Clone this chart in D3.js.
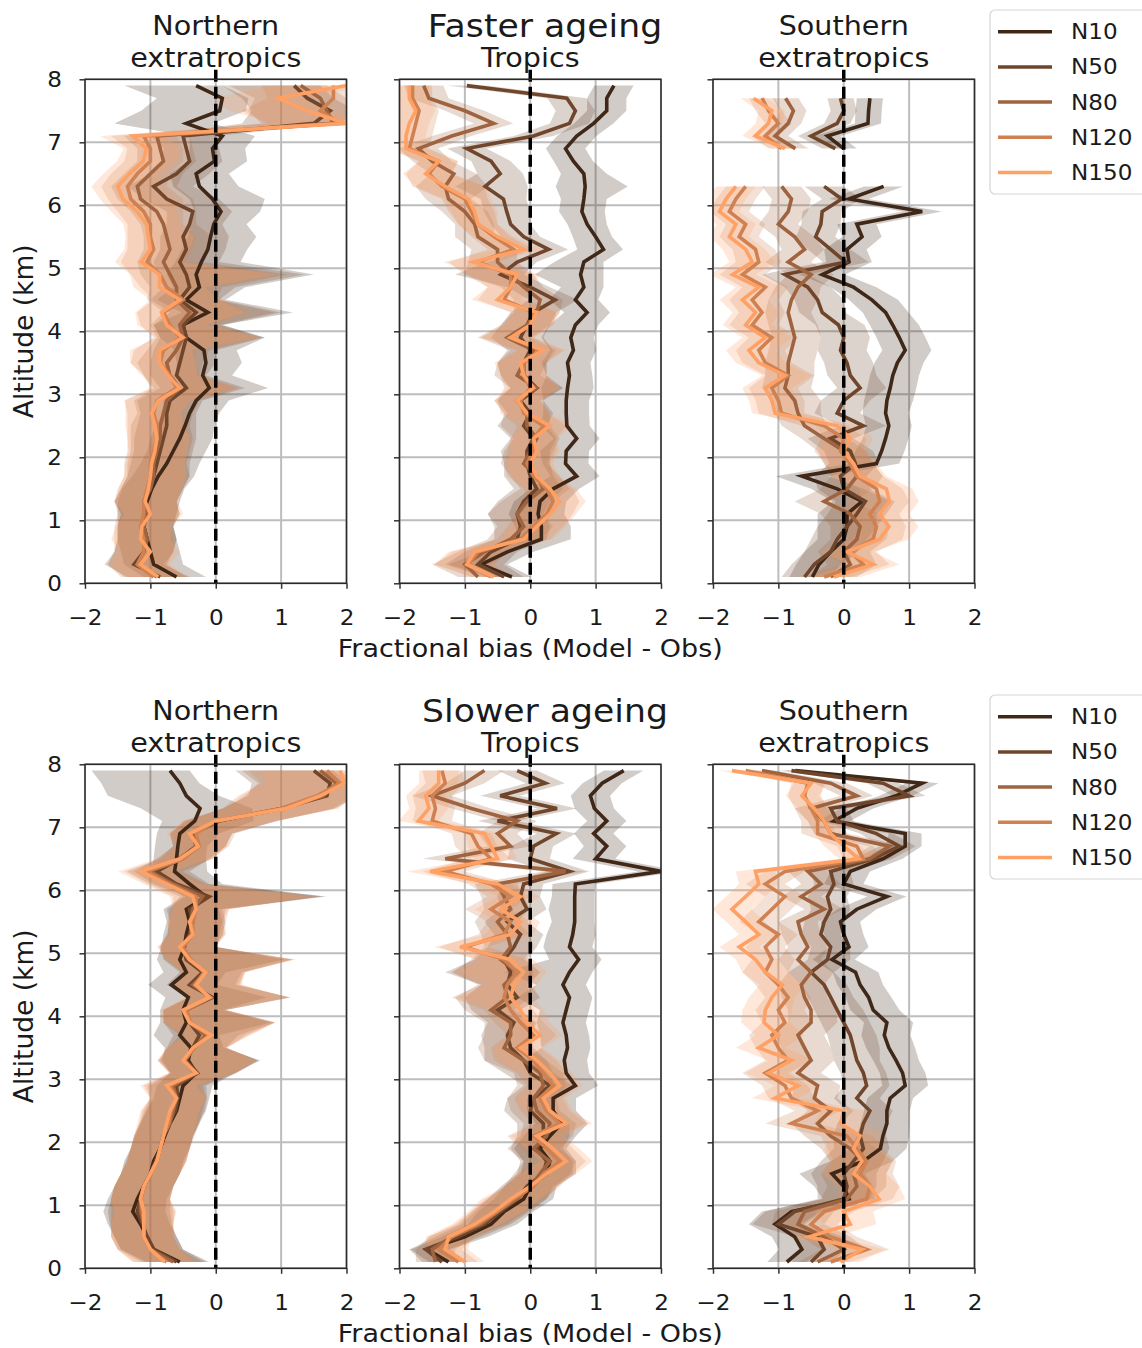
<!DOCTYPE html>
<html><head><meta charset="utf-8">
<script src="https://cdn.jsdelivr.net/npm/d3@7"></script>
<style>body{margin:0;background:#fff} svg{font-family:"DejaVu Sans",sans-serif}</style>
</head><body><svg id="c" width="1142" height="1348"></svg>
<script>
// ---------- DATA ----------
const altitudes = [0.1,0.3,0.5,0.7,0.9,1.1,1.3,1.5,1.7,1.9,2.1,2.3,2.5,2.7,2.9,3.1,3.3,3.5,3.7,3.9,4.1,4.3,4.5,4.7,4.9,5.1,5.3,5.5,5.7,5.9,6.1,6.3,6.5,6.7,6.9,7.1,7.3,7.5,7.7,7.9];
const seriesNames = ["N10","N50","N80","N120","N150"];
const xTicks = [-2,-1,0,1,2];
const yTicks = [0,1,2,3,4,5,6,7,8];
const rowTitles = ["Faster ageing","Slower ageing"];
const colTitles = [["Northern","extratropics"],["Tropics"],["Southern","extratropics"]];

// Faster ageing, Northern extratropics (N10,N50,N80,N120,N150)
const fasterNH = [
 [-0.6,-0.95,-1.0,-1.05,-1.1,-1.1,-1.05,-0.98,-0.88,-0.75,-0.65,-0.55,-0.47,-0.4,-0.3,-0.1,-0.2,-0.15,-0.18,-0.45,-0.5,-0.12,-0.45,-0.25,-0.3,-0.22,-0.12,-0.08,-0.03,0.08,-0.05,-0.25,-0.3,-0.02,-0.05,0.1,-0.45,0.06,0.1,-0.3],
 [-0.85,-1.25,-1.1,-1.05,-1.1,-1.05,-1.1,-1.0,-0.95,-0.9,-0.85,-0.8,-0.75,-0.75,-0.7,-0.45,-0.6,-0.55,-0.5,-0.45,-0.5,-0.3,-0.55,-0.4,-0.45,-0.55,-0.45,-0.5,-0.4,-0.35,-0.75,-0.95,-0.6,-0.4,-0.45,-0.5,1.5,1.75,1.4,1.2],
 [-0.9,-1.2,-1.1,-1.05,-1.1,-1.05,-1.1,-1.0,-0.95,-0.95,-0.9,-0.85,-0.85,-0.8,-0.75,-0.55,-0.7,-0.75,-0.6,-0.5,-0.55,-0.4,-0.6,-0.6,-0.7,-0.8,-0.7,-0.75,-0.8,-0.9,-1.15,-1.2,-1.0,-0.8,-0.85,-0.9,1.8,1.7,1.6,1.3],
 [-0.95,-1.2,-1.1,-1.1,-1.15,-1.1,-1.1,-1.05,-1.0,-1.0,-0.95,-0.9,-0.9,-0.95,-0.9,-0.6,-0.7,-0.85,-0.8,-0.55,-0.7,-0.8,-0.5,-0.75,-0.85,-1.05,-0.95,-1.0,-1.0,-1.1,-1.3,-1.35,-1.2,-1.0,-1.0,-1.1,1.9,1.6,1.8,1.8],
 [-0.88,-1.15,-1.0,-1.15,-1.13,-1.0,-1.08,-1.03,-1.0,-0.98,-0.93,-0.9,-0.93,-0.98,-0.88,-0.55,-0.73,-0.86,-0.86,-0.5,-0.75,-0.83,-0.55,-0.86,-0.86,-1.14,-1.0,-1.03,-1.06,-1.2,-1.42,-1.5,-1.32,-1.11,-1.06,-1.27,2.0,1.4,0.95,2.0]
];
const fasterNHLo = [0.5,0.45,0.45,0.45,0.4,0.4,0.45,0.45,0.4,0.4,0.4,0.45,0.45,0.4,0.5,0.4,0.4,0.45,0.45,0.4,0.45,0.4,0.45,0.4,0.45,0.4,0.4,0.35,0.35,0.4,0.35,0.4,0.4,0.4,0.35,0.5,1.1,1.2,1.0,1.1];
const fasterNHHi = [0.45,0.45,0.45,0.45,0.45,0.5,0.5,0.5,0.55,0.5,0.5,0.5,0.45,0.45,0.5,0.9,0.45,0.55,0.5,1.2,0.6,1.3,0.6,0.7,1.8,0.6,0.6,0.7,0.5,0.6,0.8,0.6,0.5,0.5,0.5,0.5,0.4,0.4,0.4,0.4];

// Faster ageing, Tropics
const fasterTR = [
 [-0.28,-0.75,-0.35,0.17,0.17,0.12,0.15,0.35,0.71,0.54,0.55,0.71,0.56,0.55,0.55,0.57,0.6,0.57,0.66,0.62,0.69,0.87,0.69,0.82,0.77,0.82,1.12,1.0,0.87,0.79,0.82,0.84,0.82,0.66,0.54,0.71,0.97,1.17,1.17,1.28],
 [-0.4,-0.8,-0.6,-0.2,-0.15,-0.2,-0.1,0.1,0.0,-0.05,-0.05,0.05,-0.1,0.0,-0.15,0.1,-0.1,-0.1,0.0,-0.15,-0.05,0.05,0.38,0.0,-0.45,-0.2,0.28,-0.1,-0.3,-0.36,-0.41,-0.69,-0.46,-0.6,-0.97,0.05,0.6,0.69,0.56,-0.97],
 [-0.8,-1.0,-0.7,-0.3,-0.1,-0.2,-0.05,0.2,0.1,-0.1,0.0,0.1,-0.05,-0.05,-0.2,0.1,-0.2,-0.1,0.05,-0.35,-0.05,0.1,0.15,-0.1,-0.3,-0.5,-0.5,-0.8,-0.85,-1.0,-1.25,-1.3,-1.17,-1.5,-1.71,-1.2,-0.56,-1.0,-1.55,-1.63],
 [-0.6,-0.95,-0.8,-0.15,0.05,0.25,0.35,0.25,0.05,-0.05,0.05,0.05,0.2,-0.1,-0.15,0.0,-0.1,-0.1,0.15,-0.3,0.0,0.05,-0.4,-0.3,-0.3,-0.8,-0.25,-0.55,-0.8,-0.9,-1.0,-1.35,-1.55,-1.4,-1.85,-1.8,-1.75,-1.7,-1.8,-1.8],
 [-0.56,-0.97,-0.85,-0.1,0.1,0.3,0.45,0.3,0.1,0.0,0.1,0.05,0.3,-0.05,-0.2,0.05,-0.1,-0.15,0.2,-0.3,0.0,0.1,-0.5,-0.3,-0.2,-0.87,-0.1,-0.5,-0.8,-0.85,-0.95,-1.3,-1.6,-1.4,-1.9,-1.9,-1.85,-1.75,-1.85,-1.85]
];
const fasterTRLo = [0.3,0.5,0.4,0.35,0.4,0.45,0.4,0.35,0.4,0.35,0.4,0.35,0.4,0.35,0.35,0.4,0.35,0.4,0.35,0.45,0.4,0.35,0.4,0.35,0.7,0.45,0.4,0.35,0.3,0.35,0.35,0.45,0.35,0.3,0.3,0.3,0.3,0.3,0.3,0.3];
const fasterTRHi = [0.3,0.4,0.4,0.45,0.45,0.4,0.4,0.4,0.35,0.35,0.35,0.35,0.35,0.35,0.35,0.4,0.35,0.35,0.35,0.35,0.35,0.35,0.35,0.3,0.35,0.3,0.3,0.25,0.3,0.35,0.35,0.65,0.35,0.3,0.3,0.3,0.3,0.3,0.3,0.3];

// Faster ageing, Southern extratropics (null = no data)
const fasterSH = [
 [-0.48,-0.38,-0.2,0.0,0.05,0.05,0.28,-0.1,-0.64,0.5,0.58,0.64,0.69,0.64,0.66,0.71,0.75,0.82,0.94,0.85,0.75,0.64,0.43,0.15,-0.33,0.08,0.05,0.28,0.2,1.2,0.08,0.61,null,null,0.0,-0.25,0.37,0.38,0.4,null],
 [-0.6,-0.45,-0.2,-0.1,0.05,0.2,0.33,0.0,-0.05,0.18,0.1,-0.2,0.3,-0.1,0.0,0.25,0.1,0.05,-0.05,0.0,-0.08,-0.33,-0.4,-0.55,-0.9,0.03,-0.2,-0.43,-0.35,-0.33,-0.03,-0.3,null,null,-0.13,-0.5,-0.1,0.0,-0.05,null],
 [-0.2,0.1,0.0,0.2,0.25,0.1,-0.3,0.05,0.2,0.1,0.0,-0.3,-0.6,-0.7,-0.75,-0.9,-0.85,-0.85,-0.8,-0.75,-0.8,-0.85,-0.8,-0.7,-0.5,-0.85,-0.6,-0.75,-1.0,-0.85,-0.8,-0.95,null,null,-0.74,-1.05,-0.85,-0.77,-0.89,null],
 [-0.3,0.3,0.1,0.45,0.5,0.4,0.55,0.5,0.2,0.1,-0.05,0.0,-0.3,-0.95,-1.0,-1.1,-0.85,-1.2,-1.3,-1.1,-1.4,-1.25,-1.4,-1.2,-1.55,-1.3,-1.35,-1.6,-1.5,-1.75,-1.65,-1.5,null,null,-0.95,-1.2,-1.0,-1.15,-1.25,null],
 [-0.15,0.45,0.05,0.55,0.69,0.55,0.7,0.65,0.25,0.15,0.0,0.1,-0.1,-1.05,-1.1,-1.2,-0.9,-1.3,-1.45,-1.2,-1.5,-1.35,-1.55,-1.3,-1.7,-1.4,-1.5,-1.75,-1.65,-1.9,-1.8,-1.65,null,null,-0.9,-1.35,-1.15,-1.1,-1.38,null]
];
const fasterSHLo = [0.35,0.35,0.4,0.4,0.45,0.45,0.45,0.4,0.4,0.4,0.4,0.35,0.35,0.35,0.35,0.35,0.35,0.35,0.35,0.35,0.35,0.35,0.35,0.35,0.35,0.35,0.35,0.3,0.3,0.3,0.3,0.3,0.3,0.3,0.2,0.2,0.2,0.2,0.2,0.2];
const fasterSHHi = [0.4,0.4,0.4,0.45,0.45,0.45,0.45,0.4,0.4,0.35,0.35,0.35,0.35,0.35,0.4,0.4,0.4,0.4,0.4,0.4,0.4,0.35,0.4,0.35,0.35,0.35,0.3,0.3,0.3,0.3,0.3,0.3,0.3,0.3,0.2,0.2,0.2,0.2,0.2,0.2];

// Slower ageing, Northern extratropics
const slowerNH = [
 [-0.55,-0.95,-1.05,-1.15,-1.27,-1.2,-1.1,-1.0,-0.95,-0.85,-0.78,-0.7,-0.6,-0.55,-0.5,-0.3,-0.42,-0.38,-0.55,-0.45,-0.5,-0.42,-0.68,-0.45,-0.55,-0.48,-0.45,-0.4,-0.45,-0.15,-0.4,-0.63,-0.6,-0.58,-0.55,-0.32,-0.24,-0.45,-0.55,-0.7],
 [-0.6,-0.95,-1.05,-1.12,-1.2,-1.15,-1.1,-1.0,-0.92,-0.85,-0.8,-0.72,-0.62,-0.58,-0.6,-0.28,-0.45,-0.35,-0.25,-0.4,-0.45,-0.05,-0.4,-0.2,-0.45,-0.5,-0.4,-0.35,-0.4,-0.1,-0.6,-0.9,-0.55,-0.3,-0.35,0.05,1.0,1.7,1.75,1.5],
 [-0.65,-1.0,-1.1,-1.1,-1.15,-1.15,-1.1,-1.0,-0.9,-0.85,-0.8,-0.7,-0.65,-0.6,-0.65,-0.3,-0.48,-0.33,-0.15,-0.4,-0.45,-0.08,-0.35,-0.15,-0.42,-0.52,-0.38,-0.38,-0.35,-0.2,-0.65,-1.0,-0.5,-0.3,-0.35,0.02,1.05,1.65,1.85,1.6],
 [-0.75,-1.0,-1.1,-1.1,-1.12,-1.15,-1.1,-1.0,-0.9,-0.85,-0.8,-0.72,-0.68,-0.6,-0.7,-0.32,-0.48,-0.33,-0.1,-0.38,-0.45,-0.08,-0.32,-0.18,-0.38,-0.5,-0.35,-0.35,-0.3,-0.3,-0.7,-1.05,-0.5,-0.25,-0.3,0.0,1.0,1.55,1.9,1.7],
 [-0.78,-1.0,-1.1,-1.1,-1.1,-1.15,-1.1,-1.0,-0.9,-0.85,-0.8,-0.75,-0.7,-0.6,-0.75,-0.3,-0.5,-0.35,-0.07,-0.4,-0.5,-0.1,-0.3,-0.15,-0.4,-0.55,-0.35,-0.4,-0.3,-0.35,-0.75,-1.14,-0.55,-0.27,-0.4,0.0,1.08,1.6,1.97,1.9]
];
const slowerNHLo = [0.5,0.5,0.5,0.5,0.45,0.45,0.45,0.45,0.45,0.45,0.45,0.45,0.45,0.4,0.4,0.4,0.4,0.4,0.4,0.4,0.35,0.35,0.35,0.35,0.35,0.35,0.35,0.35,0.35,0.35,0.35,0.35,0.35,0.35,0.35,0.5,0.9,1.2,1.2,1.2];
const slowerNHHi = [0.45,0.45,0.45,0.45,0.5,0.45,0.45,0.45,0.45,0.45,0.45,0.45,0.45,0.45,0.45,0.6,1.1,0.5,0.6,1.3,0.6,1.2,0.7,0.6,1.6,0.5,0.5,0.5,0.5,1.8,0.5,0.5,0.45,0.45,0.6,0.9,0.8,0.5,0.3,0.3];

// Slower ageing, Tropics
const slowerTR = [
 [-1.25,-1.58,-1.0,-0.6,-0.4,-0.1,0.0,0.25,0.3,0.15,0.3,0.48,0.35,0.35,0.69,0.55,0.52,0.57,0.55,0.5,0.55,0.6,0.5,0.6,0.74,0.6,0.65,0.68,0.68,0.68,0.69,2.0,1.0,1.17,0.97,1.17,0.98,0.92,1.1,1.43],
 [-1.35,-1.6,-1.1,-0.7,-0.45,-0.2,-0.05,0.2,0.25,0.1,0.2,0.2,0.0,0.05,0.3,0.0,-0.1,-0.3,-0.35,-0.25,-0.5,-0.2,-0.35,-0.3,-0.4,-0.25,-0.15,-0.35,-0.05,-0.15,-0.1,0.6,0.0,0.05,0.4,-0.5,0.41,-0.46,0.23,-0.2],
 [-1.45,-1.5,-1.2,-0.75,-0.5,-0.2,0.0,0.15,0.3,0.05,0.25,0.3,0.1,0.05,0.2,0.15,-0.1,-0.4,-0.3,-0.3,-0.6,-0.35,-0.4,-0.2,-0.45,-0.3,-0.35,-0.5,-0.3,-0.4,-0.5,0.54,-1.3,-0.3,-0.5,-0.2,-0.9,-1.5,-1.0,-0.7],
 [-1.1,-1.4,-1.2,-0.8,-0.5,-0.25,0.05,0.2,0.45,0.25,0.05,0.45,0.25,0.15,0.35,0.2,0.05,-0.2,0.05,-0.15,-0.3,-0.4,-0.35,-0.2,-0.4,-1.0,-0.4,-0.3,-0.6,-0.3,-0.6,-1.3,-0.6,-0.8,-0.9,-1.5,-1.45,-1.5,-1.3,-1.35],
 [-1.0,-1.3,-1.25,-0.85,-0.55,-0.3,0.0,0.25,0.55,0.35,0.1,0.55,0.3,0.2,0.45,0.3,0.1,-0.15,0.15,-0.05,-0.15,-0.3,-0.25,-0.1,-0.3,-1.07,-0.3,-0.15,-0.45,-0.15,-0.5,-1.53,-0.5,-0.6,-0.7,-1.71,-1.55,-1.6,-1.4,-1.4]
];
const slowerTRLo = [0.3,0.25,0.35,0.35,0.4,0.45,0.4,0.4,0.4,0.4,0.4,0.4,0.4,0.4,0.4,0.4,0.6,0.4,0.4,0.4,0.4,0.8,0.4,1.0,0.45,0.4,0.4,0.35,0.4,0.35,0.35,0.35,0.35,0.35,0.3,0.3,0.3,0.3,0.3,0.3];
const slowerTRHi = [0.3,0.35,0.35,0.4,0.45,0.45,0.4,0.45,0.4,0.4,0.4,0.4,0.35,0.35,0.35,0.35,0.35,0.35,0.35,0.35,0.35,0.35,0.35,0.35,0.35,0.35,0.35,0.3,0.3,0.3,0.3,0.3,0.3,0.3,0.3,0.3,0.3,0.3,0.3,0.3];

// Slower ageing, Southern extratropics
const slowerSH = [
 [-0.87,-0.64,-0.75,-1.05,-0.8,0.08,0.0,-0.18,0.3,0.56,0.6,0.66,0.66,0.71,0.94,0.9,0.8,0.69,0.62,0.66,0.45,0.38,0.25,0.18,-0.18,0.08,0.0,-0.05,0.2,0.66,0.0,0.1,0.6,0.94,0.94,-0.15,0.2,0.8,1.2,-0.74],
 [-0.5,-0.3,-0.4,-1.0,-0.75,0.0,0.05,0.0,0.15,0.3,0.25,0.3,0.4,0.2,0.35,0.3,0.2,0.15,0.1,0.0,-0.1,-0.2,-0.3,-0.5,-0.25,-0.2,-0.35,-0.3,-0.2,-0.25,-0.15,-0.2,0.45,0.85,0.5,-0.1,-0.2,1.0,0.6,-0.8],
 [-0.4,0.0,-0.3,-0.7,-0.6,0.05,0.2,0.15,0.3,0.1,-0.2,-0.4,-0.2,-0.45,-0.4,-0.7,-0.5,-0.6,-0.7,-0.5,-0.5,-0.6,-0.65,-0.5,-0.7,-0.55,-0.65,-0.7,-0.3,-0.65,-0.35,-0.55,0.4,0.7,-0.2,-0.3,-0.5,0.2,-0.2,-1.25],
 [-0.2,0.35,-0.2,-0.5,-0.3,0.35,0.4,0.25,0.35,0.2,0.05,-0.8,-0.4,-0.8,-0.9,-1.2,-0.85,-1.0,-1.1,-0.9,-1.0,-0.85,-1.0,-1.2,-1.1,-1.2,-1.0,-1.3,-1.1,-0.9,-1.2,-0.9,0.3,0.2,-0.4,-0.4,-0.5,-0.6,-0.55,-1.5],
 [-0.05,0.28,-0.53,0.1,0.0,0.54,0.4,0.15,0.28,0.15,0.25,-0.05,0.0,-1.05,-0.7,-1.15,-0.8,-1.3,-1.0,-1.22,-1.2,-1.1,-0.94,-1.2,-1.35,-1.6,-1.3,-1.5,-1.71,-1.5,-1.3,-1.35,0.23,0.0,-0.2,-0.3,-0.45,-0.64,-0.5,-1.71]
];
const slowerSHLo = [0.3,0.35,0.35,0.4,0.45,0.4,0.45,0.5,0.5,0.45,0.4,0.4,0.35,0.35,0.35,0.35,0.35,0.35,0.35,0.35,0.35,0.35,0.35,0.35,0.3,0.3,0.3,0.3,0.3,0.3,0.3,0.3,0.3,0.3,0.25,0.25,0.25,0.25,0.25,0.2];
const slowerSHHi = [0.3,0.35,0.4,0.4,0.45,0.4,0.45,0.5,0.45,0.4,0.4,0.35,0.35,0.35,0.35,0.35,0.35,0.4,0.4,0.4,0.4,0.35,0.35,0.35,0.35,0.3,0.3,0.3,0.3,0.3,0.3,0.3,0.3,0.25,0.25,0.25,0.25,0.25,0.25,0.2];

// ---------- STYLE / LAYOUT ----------
const seriesColors = ["#402819","#6f462c","#9f643f","#cf8152","#ffa065"];
const FONT_SX = 1.1;
const colLeft = [85, 399.5, 713];
const rowTop = [79.3, 764.3];
const PW = 261.5, PH = 504;
const rowShift = [0, 685];

const panels = [
 {r:0,c:0,data:fasterNH,lo:fasterNHLo,hi:fasterNHHi},
 {r:0,c:1,data:fasterTR,lo:fasterTRLo,hi:fasterTRHi},
 {r:0,c:2,data:fasterSH,lo:fasterSHLo,hi:fasterSHHi},
 {r:1,c:0,data:slowerNH,lo:slowerNHLo,hi:slowerNHHi},
 {r:1,c:1,data:slowerTR,lo:slowerTRLo,hi:slowerTRHi},
 {r:1,c:2,data:slowerSH,lo:slowerSHLo,hi:slowerSHHi}
];

const svg = d3.select("#c");

function text(parent, x, y, s, size, anchor, sx) {
  return parent.append("text")
    .attr("transform", `translate(${x},${y}) scale(${sx===undefined?FONT_SX:sx},1)`)
    .attr("text-anchor", anchor || "middle")
    .attr("font-size", size).attr("fill", "#1a1a1a").text(s);
}

panels.forEach((p, pi) => {
  const x = d3.scaleLinear().domain([-2, 2]).range([0, PW]);
  const y = d3.scaleLinear().domain([0, 8]).range([PH, 0]);
  const g = svg.append("g").attr("transform", `translate(${colLeft[p.c]},${rowTop[p.r]})`);
  const clipId = "clip" + pi;
  g.append("clipPath").attr("id", clipId).append("rect").attr("width", PW).attr("height", PH);

  // grid
  const grid = g.append("g");
  grid.selectAll("line.gx").data(xTicks).join("line")
    .attr("x1", d => x(d)).attr("x2", d => x(d)).attr("y1", 0).attr("y2", PH)
    .attr("stroke", "#bdbdbd").attr("stroke-width", 2);
  grid.selectAll("line.gy").data(yTicks).join("line")
    .attr("y1", d => y(d)).attr("y2", d => y(d)).attr("x1", 0).attr("x2", PW)
    .attr("stroke", "#bdbdbd").attr("stroke-width", 2);

  const rows = p.data.map(vals => vals.map((v, i) => ({a: altitudes[i], v: v, i: i})).filter(d => d.i < altitudes.length));

  // bands
  const area = d3.area().defined(d => d.v !== null)
    .y(d => y(d.a)).x0(d => x(d.v - p.lo[d.i])).x1(d => x(d.v + p.hi[d.i]));
  const bands = g.append("g").attr("clip-path", `url(#${clipId})`);
  rows.forEach((rw, si) => {
    bands.append("path").attr("d", area(rw))
      .attr("fill", seriesColors[si]).attr("fill-opacity", 0.24).attr("stroke", "none");
  });

  // lines
  const line = d3.line().defined(d => d.v !== null).x(d => x(d.v)).y(d => y(d.a));
  const lines = g.append("g").attr("clip-path", `url(#${clipId})`);
  rows.forEach((rw, si) => {
    lines.append("path").attr("d", line(rw)).attr("fill", "none")
      .attr("stroke", seriesColors[si]).attr("stroke-width", 3.6).attr("stroke-linejoin", "miter");
  });

  // zero dashed line
  g.append("line").attr("x1", x(0)).attr("x2", x(0)).attr("y1", y(8.15)).attr("y2", y(0))
    .attr("stroke", "#000").attr("stroke-width", 3.5).attr("stroke-dasharray", "12,5");

  // axes
  const ax = g.append("g").attr("transform", `translate(0,${PH})`)
    .call(d3.axisBottom(x).tickValues(xTicks).tickSize(5.5).tickPadding(21).tickFormat(d3.format("d")));
  ax.select(".domain").remove();
  ax.selectAll("line").attr("stroke", "#333").attr("stroke-width", 1.5);
  ax.selectAll("text").attr("font-size", 21).attr("font-family", "DejaVu Sans").attr("fill", "#1a1a1a")
    .attr("transform", `scale(${FONT_SX},1)`);

  const ay = g.append("g")
    .call(d3.axisLeft(y).tickValues(yTicks).tickSize(5.5).tickPadding(15.5).tickFormat(p.c === 0 ? d3.format("d") : () => ""));
  ay.select(".domain").remove();
  ay.selectAll("line").attr("stroke", "#333").attr("stroke-width", 1.5);
  ay.selectAll("text").attr("font-size", 21).attr("font-family", "DejaVu Sans").attr("fill", "#1a1a1a")
    .attr("transform", `scale(${FONT_SX},1)`);

  // frame
  g.append("rect").attr("width", PW).attr("height", PH).attr("fill", "none")
    .attr("stroke", "#2a2a2a").attr("stroke-width", 1.5);

  // column titles
  const cx = colLeft[p.c] + PW / 2;
  const t = colTitles[p.c];
  const base = rowShift[p.r];
  if (t.length === 2) {
    text(svg, cx, base + 34.5, t[0], 26, "middle");
    text(svg, cx, base + 66.5, t[1], 26, "middle");
  } else {
    text(svg, cx, base + 66.5, t[0], 26, "middle");
    text(svg, 545, base + 36.5, rowTitles[p.r], 31.5, "middle");
  }
  if (p.c === 1) {
    text(svg, cx, base + 657, "Fractional bias (Model - Obs)", 24.5, "middle");
  }
  if (p.c === 0) {
    svg.append("text").attr("transform", `translate(33,${rowTop[p.r] + PH / 2}) rotate(-90)`)
      .attr("text-anchor", "middle").attr("font-size", 26.5).attr("fill", "#1a1a1a").text("Altitude (km)");
  }
});

// legends
[0, 685].forEach(off => {
  const lg = svg.append("g").attr("transform", `translate(990,${10 + off})`);
  lg.append("rect").attr("x", 0).attr("y", 0).attr("width", 170).attr("height", 184).attr("rx", 5)
    .attr("fill", "#fff").attr("fill-opacity", 0.8).attr("stroke", "#d5d5d5").attr("stroke-width", 1.2);
  seriesNames.forEach((n, i) => {
    const yy = 21.7 + i * 35.2;
    lg.append("line").attr("x1", 8).attr("x2", 62).attr("y1", yy).attr("y2", yy)
      .attr("stroke", seriesColors[i]).attr("stroke-width", 3.5);
    text(lg, 81, yy + 7.5, n, 21, "start");
  });
});
</script>
</body></html>
